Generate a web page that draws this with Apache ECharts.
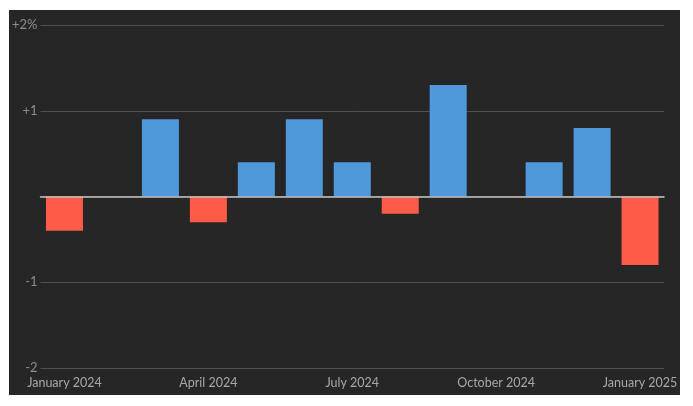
<!DOCTYPE html>
<html>
<head>
<meta charset="utf-8">
<script src="https://cdn.jsdelivr.net/npm/echarts@6/dist/echarts.min.js"></script>
<style>
html,body{margin:0;padding:0;background:#ffffff;width:693px;height:406px;overflow:hidden;}
#chart{position:absolute;left:9px;top:10px;width:671px;height:385px;background:#262626;}
</style>
</head>
<body>
<div id="chart"></div>
<script>
const categories = ["January 2024","February 2024","March 2024","April 2024","May 2024","June 2024","July 2024","August 2024","September 2024","October 2024","November 2024","December 2024","January 2025"];
const values = [-0.4, 0, 0.9, -0.3, 0.4, 0.9, 0.4, -0.2, 1.3, 0, 0.4, 0.8, -0.8];
const yTickLabels = {"2":"+2%","1":"+1","0":"","-1":"-1","-2":"-2"};

const chart = echarts.init(document.getElementById('chart'));
chart.setOption({
  backgroundColor: '#262626',
  animation: false,
  grid: {left: 27, right: 11, top: 15, bottom: 27, containLabel: false},
  xAxis: {
    type: 'category',
    data: categories,
    boundaryGap: true,
    axisLine: {show: true, onZero: true, lineStyle: {color: '#c4c4c4', width: 1.5}},
    axisTick: {show: false},
    axisLabel: {
      interval: 2,
      color: '#a8a8a8',
      fontFamily: 'Lato',
      fontSize: 12.5,
      margin: 8
    },
    z: 10
  },
  yAxis: {
    type: 'value',
    min: -2, max: 2, interval: 1,
    axisLine: {show: false},
    axisTick: {show: false},
    splitLine: {show: true, lineStyle: {color: '#505050', width: 1}},
    axisLabel: {
      color: '#8e8e8e',
      fontFamily: 'Lato',
      fontSize: 13,
      margin: 3,
      formatter: v => yTickLabels[String(v)] ?? String(v)
    }
  },
  series: [{
    type: 'bar',
    data: values,
    barWidth: 37,
    itemStyle: {
      color: p => p.value < 0 ? '#fe5b48' : '#4f98d9'
    }
  }]
});
</script>
</body>
</html>
